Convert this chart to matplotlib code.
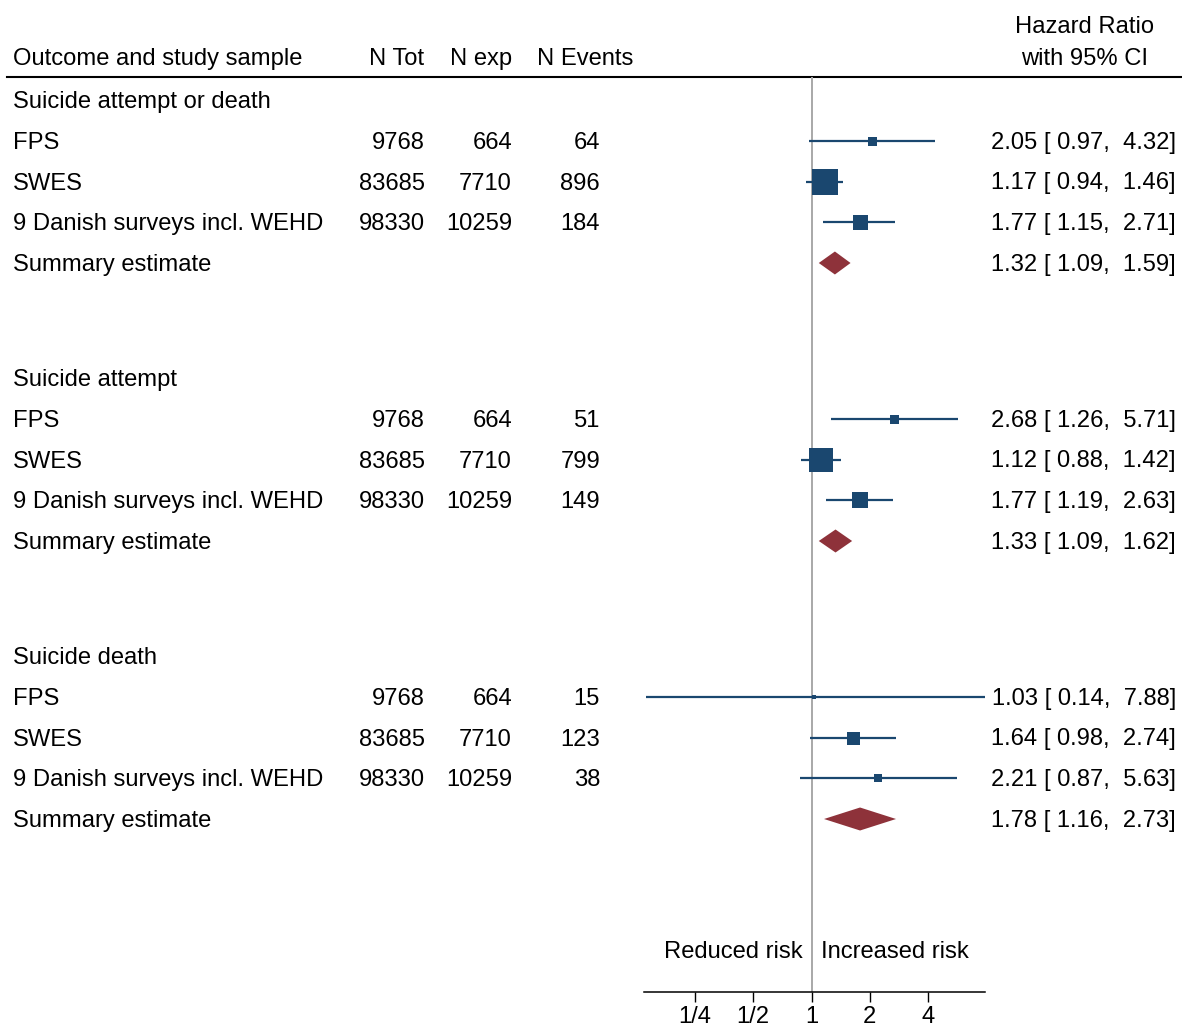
import matplotlib
matplotlib.use("Agg")
import matplotlib.pyplot as plt
import numpy as np

# ---------------- data ----------------
outcomes = ["Suicide attempt or death", "Suicide attempt", "Suicide death"]
studies = ["FPS", "SWES", "9 Danish surveys incl. WEHD"]
n_tot = [9768, 83685, 98330]
n_exp = [664, 7710, 10259]
n_events = [[64, 896, 184], [51, 799, 149], [15, 123, 38]]
hr = [[2.05, 1.17, 1.77], [2.68, 1.12, 1.77], [1.03, 1.64, 2.21]]
hr_lo = [[0.97, 0.94, 1.15], [1.26, 0.88, 1.19], [0.14, 0.98, 0.87]]
hr_hi = [[4.32, 1.46, 2.71], [5.71, 1.42, 2.63], [7.88, 2.74, 5.63]]
weights = [[81, 676, 225], [81, 576, 256], [25, 169, 72]]  # relative box weights
sum_hr = [1.32, 1.33, 1.78]
sum_lo = [1.09, 1.09, 1.16]
sum_hi = [1.59, 1.62, 2.73]
tick_vals = [0.25, 0.5, 1, 2, 4]
tick_labels = ["1/4", "1/2", "1", "2", "4"]

# ---------------- style ----------------
plt.rcParams['font.family'] = ['Liberation Sans', 'DejaVu Sans']
FS = 17.1
W, H = 1182, 1025
NAVY = "#1a476f"
RED = "#8e323a"
DY = 2.0  # small vertical text offset (px)

fig = plt.figure(figsize=(W / 100, H / 100), dpi=100)
bg = fig.add_axes([0, 0, 1, 1])
bg.set_xlim(0, W)
bg.set_ylim(H, 0)
bg.axis("off")

# forest axes (pixel-based placement)
ax_l, ax_r, ax_t, ax_b = 644.3, 985.0, 77.0, 992.3
ax = fig.add_axes([ax_l / W, 1 - ax_b / H, (ax_r - ax_l) / W, (ax_b - ax_t) / H])
ax.set_xscale("log", base=2)
ax.set_xlim(0.137, 7.86)
ax.set_ylim(ax_b, ax_t)
ax.patch.set_alpha(0)
for s in ["top", "left", "right"]:
    ax.spines[s].set_visible(False)
ax.spines["bottom"].set_linewidth(1.1)
ax.set_yticks([])
ax.set_xticks(tick_vals)
ax.set_xticklabels(tick_labels, fontsize=FS)
ax.xaxis.set_minor_locator(matplotlib.ticker.NullLocator())
ax.tick_params(axis="x", length=7, width=1.0, pad=3)
ax.axvline(1, color="#a8a8a8", lw=1.4, zorder=1)


def txt(x, y, s, ha="left"):
    bg.text(x, y + DY, s, fontsize=FS, va="center", ha=ha)


# header
txt(13, 57, "Outcome and study sample")
txt(424, 57, "N Tot", ha="right")
txt(512, 57, "N exp", ha="right")
txt(537, 57, "N Events")
txt(1085, 25, "Hazard Ratio", ha="center")
txt(1085, 57, "with 95% CI", ha="center")
bg.plot([7, W], [77, 77], color="black", lw=1.5)

row_h = 40.75
group_h = 278
for g, outcome in enumerate(outcomes):
    y0 = 100 + g * group_h
    txt(13, y0, outcome)
    for i, st in enumerate(studies):
        y = y0 + row_h * (i + 1)
        txt(13, y, st)
        txt(425, y, f"{n_tot[i]}", ha="right")
        txt(512, y, f"{n_exp[i]}", ha="right")
        txt(600, y, f"{n_events[g][i]}", ha="right")
        txt(1176, y, f"{hr[g][i]:.2f} [{hr_lo[g][i]:5.2f}, {hr_hi[g][i]:5.2f}]", ha="right")
        ax.plot([hr_lo[g][i], hr_hi[g][i]], [y, y], color=NAVY, lw=1.6,
                solid_capstyle="butt", zorder=2, clip_on=False)
        side_px = np.sqrt(weights[g][i])
        ax.plot([hr[g][i]], [y], marker="s", ms=side_px * 0.72, color=NAVY,
                mec=NAVY, mew=0, zorder=3, clip_on=False)
    ys = y0 + row_h * 4
    txt(13, ys, "Summary estimate")
    txt(1176, ys, f"{sum_hr[g]:.2f} [{sum_lo[g]:5.2f}, {sum_hi[g]:5.2f}]", ha="right")
    ax.fill([sum_lo[g], sum_hr[g], sum_hi[g], sum_hr[g]],
            [ys, ys - 11.5, ys, ys + 11.5], color=RED, lw=0, zorder=3)

txt(803, 950, "Reduced risk", ha="right")
txt(821, 950, "Increased risk")

fig.savefig("out.png", dpi=100)
